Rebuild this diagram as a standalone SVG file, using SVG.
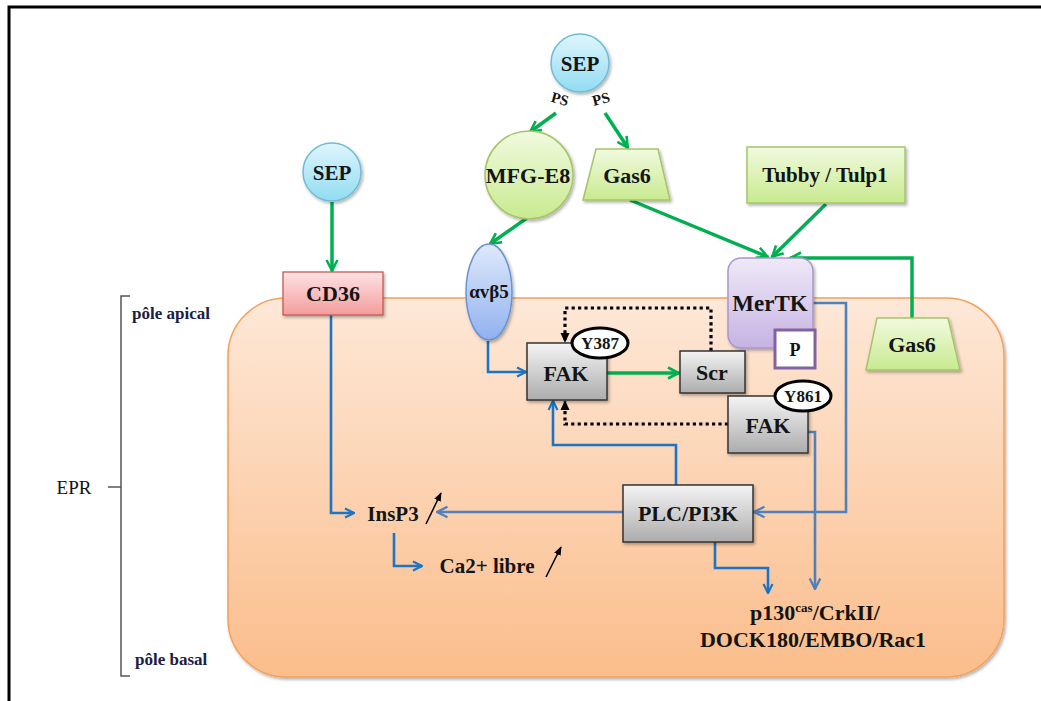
<svg xmlns="http://www.w3.org/2000/svg" width="1041" height="701" viewBox="0 0 1041 701">
<defs>
<linearGradient id="gCell" x1="0" y1="0" x2="0" y2="1"><stop offset="0" stop-color="#fde8d8"/><stop offset="1" stop-color="#fbbd8b"/></linearGradient>
<linearGradient id="gBlue" x1="0" y1="0" x2="0" y2="1"><stop offset="0" stop-color="#dff5fd"/><stop offset="1" stop-color="#92dcf2"/></linearGradient>
<linearGradient id="gGreen" x1="0" y1="0" x2="0" y2="1"><stop offset="0" stop-color="#f1fadf"/><stop offset="1" stop-color="#c8ea8f"/></linearGradient>
<linearGradient id="gPurple" x1="0" y1="0" x2="0" y2="1"><stop offset="0" stop-color="#efe9f8"/><stop offset="1" stop-color="#c6b3e2"/></linearGradient>
<linearGradient id="gPink" x1="0" y1="0" x2="0" y2="1"><stop offset="0" stop-color="#fde3e3"/><stop offset="1" stop-color="#f49c9c"/></linearGradient>
<linearGradient id="gInteg" x1="0" y1="0" x2="0" y2="1"><stop offset="0" stop-color="#dfe9fb"/><stop offset="1" stop-color="#90b1ef"/></linearGradient>
<linearGradient id="gGray" x1="0" y1="0" x2="0" y2="1"><stop offset="0" stop-color="#f4f4f4"/><stop offset="1" stop-color="#acacac"/></linearGradient>
<filter id="sh" x="-20%" y="-20%" width="140%" height="140%"><feDropShadow dx="1.5" dy="2" stdDeviation="1.5" flood-color="#000" flood-opacity="0.3"/></filter>
<marker id="ag" viewBox="0 0 14 14" refX="13" refY="7" markerWidth="14" markerHeight="14" markerUnits="userSpaceOnUse" orient="auto"><path d="M2,1.5 L12.5,7 L2,12.5" fill="none" stroke="#00b050" stroke-width="2.6"/></marker>
<marker id="ab" viewBox="0 0 12 12" refX="11" refY="6" markerWidth="12" markerHeight="12" markerUnits="userSpaceOnUse" orient="auto"><path d="M2,1.5 L11,6 L2,10.5" fill="none" stroke="#1b75c4" stroke-width="2.2"/></marker>
<marker id="as" viewBox="0 0 12 12" refX="11" refY="6" markerWidth="14" markerHeight="14" markerUnits="userSpaceOnUse" orient="auto"><path d="M2,1.5 L11,6 L2,10.5" fill="none" stroke="#4f81bd" stroke-width="2"/></marker>
<marker id="ak" viewBox="0 0 10 10" refX="9" refY="5" markerWidth="10" markerHeight="10" markerUnits="userSpaceOnUse" orient="auto"><path d="M0,0.5 L10,5 L0,9.5 Z" fill="#000"/></marker>
<marker id="ak2" viewBox="0 0 10 10" refX="9" refY="5" markerWidth="9" markerHeight="9" markerUnits="userSpaceOnUse" orient="auto"><path d="M0,1 L10,5 L0,9 Z" fill="#000"/></marker>
</defs>
<style>
text{font-family:"Liberation Serif","Times New Roman",serif;font-weight:bold;fill:#141414;text-anchor:middle}
.lbl{font-size:22px}
.sm{font-size:17px}
.side{font-size:17px;text-anchor:start;fill:#1a2040}
.g{fill:none;stroke:#00b050;stroke-width:3.5;marker-end:url(#ag)}
.b{fill:none;stroke:#1b75c4;stroke-width:2.6;marker-end:url(#ab)}
.s{fill:none;stroke:#4f81bd;stroke-width:2.6;marker-end:url(#as)}
.d{fill:none;stroke:#000;stroke-width:3.2;stroke-dasharray:3.2 3.2;marker-end:url(#ak)}
.k{fill:none;stroke:#000;stroke-width:1.5;marker-end:url(#ak2)}
</style>
<rect x="9" y="7" width="1100" height="800" fill="#fff" stroke="#000" stroke-width="3"/>
<g id="cell">
<rect x="228" y="298" width="776" height="379" rx="58" fill="url(#gCell)" stroke="#f5a05a" stroke-width="1.5" filter="url(#sh)"/>
</g>
<g id="brace">
<path d="M130,296 H121 V676 H130 M121,487 H108" fill="none" stroke="#555" stroke-width="1.5"/>
<text class="side" x="132" y="319">pôle apical</text>
<text class="side" x="135" y="665">pôle basal</text>
<text x="74" y="494" style="font-weight:normal;font-size:19px;fill:#111">EPR</text>
</g>
<g id="connectors">
<path class="g" d="M556,113 L530,132"/>
<path class="g" d="M605,113 L628,148"/>
<path class="g" d="M332,202 V271"/>
<path class="g" d="M527,218 L490,244"/>
<path class="g" d="M630,200 L768,257"/>
<path class="g" d="M826,204 L772,257"/>
<path class="g" d="M912,318 V258 H790"/>
<path class="g" d="M607,373 H679"/>
<path class="b" d="M331,315 V513 H354"/>
<path class="b" d="M488,341 V372 H526"/>
<path class="b" d="M676,485 V445 H553 V401"/>
<path class="b" d="M394,533 V566 H422"/>
<path class="b" d="M715,542 V568 H768 V593"/>
<path class="s" d="M623,512 H437"/>
<path class="s" d="M813,303 H846 V512 H754"/>
<path class="s" d="M808,432 H815 V589"/>
<path class="d" d="M711,351 V308 H565 V342"/>
<path class="d" d="M728,424 H565 V401"/>
<path class="k" d="M426,524 L441,493"/>
<path class="k" d="M546,577 L561,547"/>
</g>
<g id="sep-top">
<circle cx="580" cy="63" r="29" fill="url(#gBlue)" stroke="#6fbcd6" stroke-width="1.5" filter="url(#sh)"/>
<text class="lbl" x="580" y="71" style="font-size:21px">SEP</text>
<text x="560" y="104" style="font-size:15px" transform="rotate(15 560 99)">PS</text>
<text x="601" y="104" style="font-size:15px" transform="rotate(-15 601 99)">PS</text>
</g>
<g id="sep-left">
<circle cx="332" cy="172" r="29" fill="url(#gBlue)" stroke="#6fbcd6" stroke-width="1.5" filter="url(#sh)"/>
<text class="lbl" x="332" y="180" style="font-size:21px">SEP</text>
</g>
<g id="cd36">
<rect x="283" y="272" width="100" height="43" fill="url(#gPink)" stroke="#c0504d" stroke-width="1.2" filter="url(#sh)"/>
<text class="lbl" x="333" y="301">CD36</text>
</g>
<g id="mfge8">
<circle cx="529" cy="175" r="44" fill="url(#gGreen)" stroke="#a6c46a" stroke-width="1.5" filter="url(#sh)"/>
<text class="lbl" x="528" y="183">MFG-E8</text>
</g>
<g id="gas6-top">
<path d="M596,149 H658 L670,200 H583 Z" fill="url(#gGreen)" stroke="#a6c46a" stroke-width="1.5" filter="url(#sh)"/>
<text class="lbl" x="627" y="183">Gas6</text>
</g>
<g id="tubby">
<rect x="747" y="147" width="158" height="56" fill="url(#gGreen)" stroke="#a6c46a" stroke-width="1.5" filter="url(#sh)"/>
<text class="lbl" x="825" y="182" style="font-size:21px">Tubby / Tulp1</text>
</g>
<g id="integrin">
<ellipse cx="489" cy="292" rx="23" ry="48" fill="url(#gInteg)" stroke="#6b93cf" stroke-width="1.5" filter="url(#sh)"/>
<text x="489" y="298" style="font-size:19px">αvβ5</text>
</g>
<g id="mertk">
<rect x="728" y="258" width="85" height="90" rx="13" fill="url(#gPurple)" stroke="#a997c9" stroke-width="1.5" filter="url(#sh)"/>
<text class="lbl" x="770" y="311" style="font-size:23px">MerTK</text>
</g>
<g id="p-box">
<rect x="775" y="330" width="40" height="38" fill="#fff" stroke="#8064a2" stroke-width="3"/>
<text x="795" y="356" style="font-size:18px">P</text>
</g>
<g id="gas6-right">
<path d="M877,318 H948 L960,370 H866 Z" fill="url(#gGreen)" stroke="#a6c46a" stroke-width="1.5" filter="url(#sh)"/>
<text class="lbl" x="912" y="352">Gas6</text>
</g>
<g id="fak1">
<rect x="527" y="343" width="80" height="57" fill="url(#gGray)" stroke="#333" stroke-width="1.5" filter="url(#sh)"/>
<text class="lbl" x="566" y="381">FAK</text>
</g>
<g id="y387">
<ellipse cx="600" cy="343" rx="28" ry="15" fill="#fff" stroke="#000" stroke-width="3"/>
<text class="sm" x="600" y="349">Y387</text>
</g>
<g id="scr">
<rect x="680" y="351" width="65" height="42" fill="url(#gGray)" stroke="#333" stroke-width="1.5" filter="url(#sh)"/>
<text class="lbl" x="712" y="380">Scr</text>
</g>
<g id="fak2">
<rect x="728" y="396" width="80" height="57" fill="url(#gGray)" stroke="#333" stroke-width="1.5" filter="url(#sh)"/>
<text class="lbl" x="768" y="433">FAK</text>
</g>
<g id="y861">
<ellipse cx="803" cy="396" rx="28" ry="15" fill="#fff" stroke="#000" stroke-width="3"/>
<text class="sm" x="803" y="402">Y861</text>
</g>
<g id="plc">
<rect x="623" y="485" width="130" height="57" fill="url(#gGray)" stroke="#333" stroke-width="1.5" filter="url(#sh)"/>
<text class="lbl" x="688" y="521">PLC/PI3K</text>
</g>
<g id="insp3">
<text class="lbl" x="393" y="521" style="font-size:21px">InsP3</text>
</g>
<g id="ca">
<text class="lbl" x="487" y="573" style="font-size:21px">Ca2+ libre</text>
</g>
<g id="p130">
<text class="lbl" x="815" y="620">p130<tspan dy="-8" style="font-size:13px">cas</tspan><tspan dy="8">/CrkII/</tspan></text>
<text class="lbl" x="813" y="647">DOCK180/EMBO/Rac1</text>
</g>
</svg>
